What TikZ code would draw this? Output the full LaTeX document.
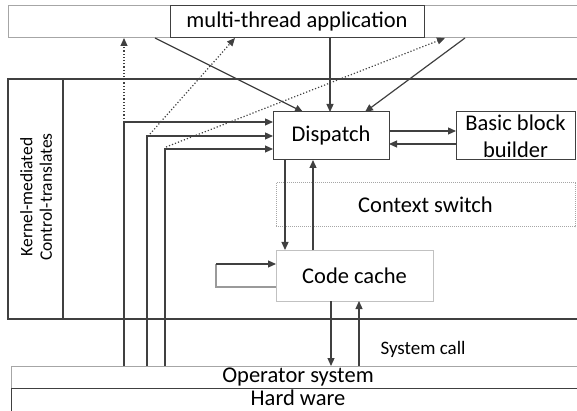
\documentclass[tikz,border=0pt]{standalone}
\usepackage{fontspec}
\setmainfont{Carlito}
\usetikzlibrary{arrows.meta}
\definecolor{ink}{HTML}{404040}
\definecolor{frame}{HTML}{A6A6A6}
\definecolor{soft}{HTML}{9A9A9A}

\begin{document}
\begin{tikzpicture}[x=1pt,y=-1pt,
  every node/.style={inner sep=0pt, outer sep=0pt},
  box/.style={draw=ink, line width=1pt, anchor=north west, align=center,
    font=\fontsize{22.5}{27}\selectfont},
  softbox/.style={box, draw=frame},
  layer/.style={draw=ink, line width=1.2pt, anchor=north west},
  arr/.style={draw=ink, line width=1.2pt, -{Triangle[length=8pt,width=7pt]}},
  dotarr/.style={arr, dotted},
]
\useasboundingbox (0,0) rectangle (577,411);

% application layer
\node[softbox, minimum width=600pt, minimum height=32pt] (band) at (8,6) {};
\node[box, fill=white, minimum width=254pt, minimum height=32pt] (app) at (170,6) {multi-thread application};

% translator layer
\node[layer, minimum width=600pt, minimum height=240pt] (kernel) at (8,79) {};
\node[layer, minimum width=55pt, minimum height=240pt] (col) at (8,79) {};
\node[rotate=90, align=center, font=\fontsize{17.5}{19.5}\selectfont] (coltext) at ([xshift=0.5pt,yshift=2pt]col.center) {Kernel-mediated\\Control-translates};

\node[box, minimum width=116pt, minimum height=48pt] (dispatch) at (273,112) {Dispatch};
\node[box, minimum width=119pt, minimum height=48pt] (bbb) at (456,112) {Basic block\\builder};
\node[softbox, densely dotted, minimum width=299pt, minimum height=44pt] (ctx) at (276,183) {Context switch};
\node[softbox, draw=frame!70, minimum width=157pt, minimum height=51pt] (cache) at (276,250) {Code cache};

% system layers
\node[softbox, minimum width=574pt, minimum height=22pt] (os) at (11,366) {Operator system};
\node[box, draw=none, minimum width=574pt, minimum height=23pt, text height=15pt, text depth=3pt] (hw) at (11,388) {Hard ware};
\draw[draw=ink, line width=1pt] (hw.south west) -- (hw.north west) -- (hw.north east);
\node[font=\fontsize{19}{22}\selectfont] (syscall) at (423,349) {System call};

% control transfers back to the application
\coordinate (t1) at (124,122);
\coordinate (t2) at (147,136);
\coordinate (t3) at (165,149);
\coordinate (d2) at (150,134);
\coordinate (d3) at (166,147);
\draw[dotarr] (t1) -- (t1 |- band.south);
\draw[dotarr] (d2) -- (235,38);
\draw[dotarr] (d3) -- (445,38);

% kernel-mediated entries into the dispatcher
\draw[arr] (t1 |- os.north) |- (dispatch.west |- t1);
\draw[arr] (t2 |- os.north) |- (dispatch.west |- t2);
\draw[arr] (t3 |- os.north) |- (dispatch.west |- t3);

% application threads into the dispatcher
\coordinate (a1) at (155,38);
\coordinate (a3) at (465,38);
\draw[arr] (a1) -- (303,112);
\draw[arr] (app.south -| 330,0) -- (dispatch.north -| 330,0);
\draw[arr] (a3) -- (365,112);

% dispatcher and block builder
\draw[arr] (dispatch.east |- 0,131) -- (bbb.west |- 0,131);
\draw[arr] (bbb.west |- 0,144) -- (dispatch.east |- 0,144);

% dispatcher and code cache
\draw[arr] (dispatch.south -| 285,0) -- (cache.north -| 285,0);
\draw[arr] (cache.north -| 313,0) -- (dispatch.south -| 313,0);

% code cache self loop
\coordinate (l1) at (216,287);
\coordinate (l2) at (216,264);
\draw[draw=soft, line width=1.2pt] (cache.west |- l1) -- (l1) -- (l2);
\draw[arr] (l2) -- (cache.west |- l2);

% code cache and operating system
\draw[arr] (cache.south -| 331,0) -- (os.north -| 331,0);
\draw[arr] (os.north -| 359,0) -- (cache.south -| 359,0);
\end{tikzpicture}
\end{document}
